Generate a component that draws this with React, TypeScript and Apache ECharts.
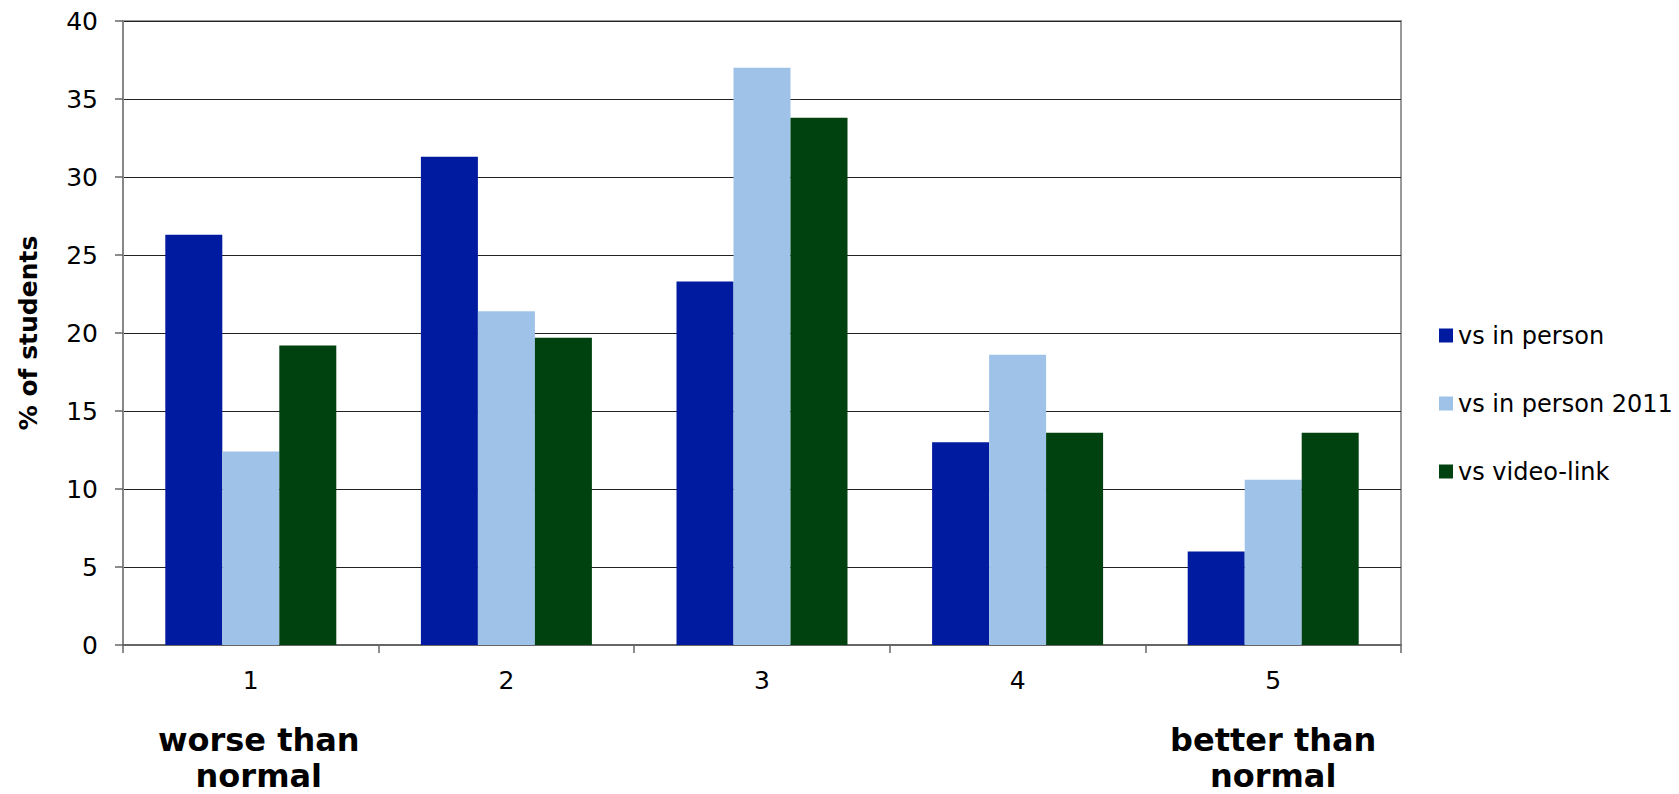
import React, { useEffect, useRef } from "react";
import * as echarts from "echarts";

const categories = ["1", "2", "3", "4", "5"];
const scaleEndLabels = ["worse than\nnormal", "", "", "", "better than\nnormal"];
const seriesNames = ["vs in person", "vs in person 2011", "vs video-link"];
const vsInPerson = [26.3, 31.3, 23.3, 13.0, 6.0];
const vsInPerson2011 = [12.4, 21.4, 37.0, 18.6, 10.6];
const vsVideoLink = [19.2, 19.7, 33.8, 13.6, 13.6];
const colors = ["#001b9f", "#9fc2e9", "#00420f"];
const yTicks = { min: 0, max: 40, interval: 5 };

const FONT = "'DejaVu Sans', Verdana, sans-serif";

export default function App() {
  const ref = useRef<HTMLDivElement>(null);
  useEffect(() => {
    if (!ref.current) return;
    const chart = echarts.init(ref.current, null, { renderer: "svg" });
    const values = [vsInPerson, vsInPerson2011, vsVideoLink];
    chart.setOption({
      animation: false,
      backgroundColor: "#ffffff",
      textStyle: { fontFamily: FONT },
      grid: {
        left: 123,
        right: 278,
        top: 21,
        bottom: 148,
        show: true,
        borderColor: "#999999",
        borderWidth: 2,
        backgroundColor: "transparent",
      },
      legend: {
        orient: "vertical",
        left: 1434,
        top: 318,
        icon: "rect",
        itemWidth: 14,
        itemHeight: 14,
        itemGap: 43,
        selectedMode: false,
        data: seriesNames,
        textStyle: { fontFamily: FONT, fontSize: 24, color: "#000", lineHeight: 25 },
      },
      xAxis: [
        {
          type: "category",
          data: categories,
          position: "bottom",
          axisLine: { show: true, lineStyle: { color: "#666666", width: 2 } },
          axisTick: { show: true, alignWithLabel: false, length: 8, lineStyle: { color: "#666666", width: 1.5 } },
          axisLabel: { color: "#000", fontFamily: FONT, fontSize: 25, margin: 23 },
          splitLine: { show: false },
        },
        {
          type: "category",
          data: scaleEndLabels.map((v, i) =>
            i === 0 ? { value: v, textStyle: { padding: [0, 0, 0, 16] } } : v
          ),
          position: "bottom",
          axisLine: { show: false },
          axisTick: { show: false },
          axisLabel: {
            color: "#000",
            fontFamily: FONT,
            fontWeight: "bold",
            fontSize: 32,
            lineHeight: 36,
            margin: 77,
            interval: 0,
          },
          splitLine: { show: false },
        },
      ],
      yAxis: {
        type: "value",
        min: yTicks.min,
        max: yTicks.max,
        interval: yTicks.interval,
        name: "% of students",
        nameLocation: "middle",
        nameGap: 82,
        nameRotate: 90,
        nameTextStyle: { fontFamily: FONT, fontWeight: "bold", fontSize: 25, color: "#000" },
        axisLine: { show: true, lineStyle: { color: "#888888", width: 2 } },
        axisTick: { show: true, length: 8, lineStyle: { color: "#666666", width: 1.5 } },
        axisLabel: { color: "#000", fontFamily: FONT, fontSize: 25, margin: 25 },
        splitLine: { show: true, lineStyle: { color: "#222222", width: 1 } },
      },
      series: seriesNames.map((name, i) => ({
        name,
        type: "bar",
        xAxisIndex: 0,
        data: values[i],
        barWidth: 57,
        barGap: "0%",
        itemStyle: { color: colors[i] },
      })),
    });
    return () => chart.dispose();
  }, []);
  return (
    <div
      ref={ref}
      style={{ position: "absolute", left: 0, top: 0, width: 1679, height: 794 }}
    />
  );
}
